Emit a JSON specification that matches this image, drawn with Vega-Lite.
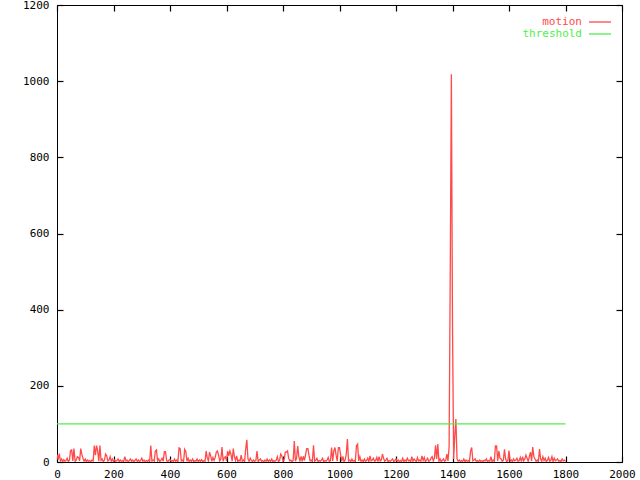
{
  "$schema": "https://vega.github.io/schema/vega-lite/v6.json",
  "width": 565,
  "height": 457,
  "autosize": "none",
  "padding": {"left": 57, "top": 5, "right": 18, "bottom": 18},
  "background": "white",
  "config": {
    "view": {"stroke": "black", "strokeWidth": 1},
    "font": "DejaVu Sans Mono",
    "axis": {
      "domain": false, "tickColor": "black", "labelColor": "black",
      "labelFont": "DejaVu Sans Mono", "labelFontSize": 11, "grid": false,
      "title": null, "labelFlush": false, "labelOverlap": false, "format": "d", "tickWidth": 1.2
    }
  },
  "datasets": {
    "motion": [
{"x":0,"y":20},{"x":4,"y":6},{"x":8,"y":22},{"x":12,"y":3},{"x":16,"y":8},{"x":20,"y":1},{"x":24,"y":6},{"x":28,"y":2},{"x":32,"y":4},{"x":36,"y":10},{"x":40,"y":1},{"x":44,"y":5},{"x":48,"y":30},{"x":52,"y":32},{"x":56,"y":3},{"x":60,"y":35},{"x":64,"y":2},{"x":68,"y":5},{"x":72,"y":14},{"x":76,"y":12},{"x":80,"y":3},{"x":84,"y":35},{"x":88,"y":20},{"x":92,"y":10},{"x":96,"y":2},
{"x":100,"y":8},{"x":104,"y":1},{"x":108,"y":5},{"x":112,"y":2},{"x":116,"y":4},{"x":120,"y":1},{"x":124,"y":5},{"x":128,"y":3},{"x":132,"y":43},{"x":136,"y":18},{"x":140,"y":43},{"x":144,"y":30},{"x":148,"y":2},{"x":152,"y":43},{"x":156,"y":4},{"x":160,"y":8},{"x":164,"y":1},{"x":168,"y":5},{"x":172,"y":21},{"x":176,"y":16},{"x":180,"y":3},{"x":184,"y":5},{"x":188,"y":14},{"x":192,"y":2},{"x":196,"y":8},
{"x":200,"y":1},{"x":204,"y":5},{"x":208,"y":2},{"x":212,"y":4},{"x":216,"y":8},{"x":220,"y":1},{"x":224,"y":5},{"x":228,"y":2},{"x":232,"y":4},{"x":236,"y":1},{"x":240,"y":14},{"x":244,"y":3},{"x":248,"y":5},{"x":252,"y":1},{"x":256,"y":4},{"x":260,"y":8},{"x":264,"y":2},{"x":268,"y":5},{"x":272,"y":1},{"x":276,"y":4},{"x":280,"y":8},{"x":284,"y":2},{"x":288,"y":5},{"x":292,"y":1},{"x":296,"y":4},
{"x":300,"y":10},{"x":304,"y":2},{"x":308,"y":5},{"x":312,"y":1},{"x":316,"y":4},{"x":320,"y":2},{"x":324,"y":5},{"x":328,"y":1},{"x":332,"y":43},{"x":336,"y":3},{"x":340,"y":5},{"x":344,"y":2},{"x":348,"y":29},{"x":352,"y":32},{"x":356,"y":3},{"x":360,"y":8},{"x":364,"y":1},{"x":368,"y":5},{"x":372,"y":10},{"x":376,"y":2},{"x":380,"y":27},{"x":384,"y":27},{"x":388,"y":4},{"x":392,"y":1},{"x":396,"y":5},
{"x":400,"y":6},{"x":404,"y":2},{"x":408,"y":4},{"x":412,"y":1},{"x":416,"y":8},{"x":420,"y":2},{"x":424,"y":5},{"x":428,"y":1},{"x":432,"y":37},{"x":436,"y":35},{"x":440,"y":3},{"x":444,"y":5},{"x":448,"y":1},{"x":452,"y":33},{"x":456,"y":27},{"x":460,"y":2},{"x":464,"y":10},{"x":468,"y":1},{"x":472,"y":5},{"x":476,"y":2},{"x":480,"y":8},{"x":484,"y":1},{"x":488,"y":4},{"x":492,"y":2},{"x":496,"y":8},
{"x":500,"y":1},{"x":504,"y":5},{"x":508,"y":2},{"x":512,"y":6},{"x":516,"y":1},{"x":520,"y":4},{"x":524,"y":2},{"x":528,"y":29},{"x":532,"y":10},{"x":536,"y":3},{"x":540,"y":26},{"x":544,"y":16},{"x":548,"y":2},{"x":552,"y":12},{"x":556,"y":4},{"x":560,"y":12},{"x":564,"y":26},{"x":568,"y":29},{"x":572,"y":18},{"x":576,"y":3},{"x":580,"y":8},{"x":584,"y":39},{"x":588,"y":2},{"x":592,"y":11},{"x":596,"y":14},
{"x":600,"y":3},{"x":604,"y":29},{"x":608,"y":16},{"x":612,"y":29},{"x":616,"y":20},{"x":620,"y":2},{"x":624,"y":35},{"x":628,"y":14},{"x":632,"y":4},{"x":636,"y":16},{"x":640,"y":1},{"x":644,"y":5},{"x":648,"y":3},{"x":652,"y":18},{"x":656,"y":2},{"x":660,"y":5},{"x":664,"y":1},{"x":668,"y":35},{"x":672,"y":58},{"x":676,"y":8},{"x":680,"y":2},{"x":684,"y":10},{"x":688,"y":4},{"x":692,"y":1},{"x":696,"y":5},
{"x":700,"y":2},{"x":704,"y":4},{"x":708,"y":29},{"x":712,"y":1},{"x":716,"y":5},{"x":720,"y":8},{"x":724,"y":2},{"x":728,"y":4},{"x":732,"y":1},{"x":736,"y":5},{"x":740,"y":2},{"x":744,"y":8},{"x":748,"y":1},{"x":752,"y":5},{"x":756,"y":2},{"x":760,"y":8},{"x":764,"y":1},{"x":768,"y":4},{"x":772,"y":2},{"x":776,"y":5},{"x":780,"y":14},{"x":784,"y":1},{"x":788,"y":4},{"x":792,"y":21},{"x":796,"y":16},
{"x":800,"y":2},{"x":804,"y":5},{"x":808,"y":26},{"x":812,"y":26},{"x":816,"y":29},{"x":820,"y":10},{"x":824,"y":3},{"x":828,"y":5},{"x":832,"y":1},{"x":836,"y":4},{"x":840,"y":55},{"x":844,"y":2},{"x":848,"y":10},{"x":852,"y":42},{"x":856,"y":14},{"x":860,"y":3},{"x":864,"y":15},{"x":868,"y":2},{"x":872,"y":15},{"x":876,"y":4},{"x":880,"y":20},{"x":884,"y":35},{"x":888,"y":35},{"x":892,"y":18},{"x":896,"y":3},
{"x":900,"y":5},{"x":904,"y":1},{"x":908,"y":44},{"x":912,"y":2},{"x":916,"y":5},{"x":920,"y":10},{"x":924,"y":1},{"x":928,"y":4},{"x":932,"y":2},{"x":936,"y":5},{"x":940,"y":10},{"x":944,"y":1},{"x":948,"y":4},{"x":952,"y":2},{"x":956,"y":5},{"x":960,"y":12},{"x":964,"y":1},{"x":968,"y":4},{"x":972,"y":38},{"x":976,"y":3},{"x":980,"y":30},{"x":984,"y":38},{"x":988,"y":18},{"x":992,"y":2},{"x":996,"y":38},
{"x":1000,"y":38},{"x":1004,"y":18},{"x":1008,"y":2},{"x":1012,"y":15},{"x":1016,"y":1},{"x":1020,"y":5},{"x":1024,"y":21},{"x":1028,"y":60},{"x":1032,"y":3},{"x":1036,"y":5},{"x":1040,"y":1},{"x":1044,"y":8},{"x":1048,"y":2},{"x":1052,"y":4},{"x":1056,"y":1},{"x":1060,"y":43},{"x":1064,"y":47},{"x":1068,"y":3},{"x":1072,"y":14},{"x":1076,"y":2},{"x":1080,"y":5},{"x":1084,"y":1},{"x":1088,"y":8},{"x":1092,"y":2},{"x":1096,"y":4},
{"x":1100,"y":10},{"x":1104,"y":1},{"x":1108,"y":16},{"x":1112,"y":3},{"x":1116,"y":5},{"x":1120,"y":10},{"x":1124,"y":2},{"x":1128,"y":4},{"x":1132,"y":12},{"x":1136,"y":1},{"x":1140,"y":14},{"x":1144,"y":3},{"x":1148,"y":5},{"x":1152,"y":21},{"x":1156,"y":10},{"x":1160,"y":2},{"x":1164,"y":5},{"x":1168,"y":10},{"x":1172,"y":1},{"x":1176,"y":4},{"x":1180,"y":2},{"x":1184,"y":5},{"x":1188,"y":8},{"x":1192,"y":1},{"x":1196,"y":4},
{"x":1200,"y":8},{"x":1204,"y":2},{"x":1208,"y":5},{"x":1212,"y":1},{"x":1216,"y":4},{"x":1220,"y":2},{"x":1224,"y":10},{"x":1228,"y":1},{"x":1232,"y":5},{"x":1236,"y":2},{"x":1240,"y":10},{"x":1244,"y":3},{"x":1248,"y":5},{"x":1252,"y":1},{"x":1256,"y":14},{"x":1260,"y":2},{"x":1264,"y":8},{"x":1268,"y":4},{"x":1272,"y":1},{"x":1276,"y":12},{"x":1280,"y":3},{"x":1284,"y":5},{"x":1288,"y":2},{"x":1292,"y":16},{"x":1296,"y":4},
{"x":1300,"y":12},{"x":1304,"y":1},{"x":1308,"y":5},{"x":1312,"y":10},{"x":1316,"y":2},{"x":1320,"y":4},{"x":1324,"y":10},{"x":1328,"y":14},{"x":1332,"y":3},{"x":1336,"y":10},{"x":1340,"y":44},{"x":1344,"y":8},{"x":1348,"y":47},{"x":1352,"y":2},{"x":1356,"y":8},{"x":1360,"y":1},{"x":1364,"y":5},{"x":1368,"y":8},{"x":1372,"y":2},{"x":1376,"y":4},{"x":1380,"y":21},{"x":1384,"y":3},{"x":1388,"y":39},{"x":1392,"y":493},{"x":1396,"y":1018},
{"x":1400,"y":362},{"x":1404,"y":8},{"x":1408,"y":68},{"x":1412,"y":113},{"x":1416,"y":8},{"x":1420,"y":2},{"x":1424,"y":5},{"x":1428,"y":1},{"x":1432,"y":4},{"x":1436,"y":2},{"x":1440,"y":8},{"x":1444,"y":1},{"x":1448,"y":5},{"x":1452,"y":2},{"x":1456,"y":4},{"x":1460,"y":1},{"x":1464,"y":29},{"x":1468,"y":38},{"x":1472,"y":3},{"x":1476,"y":5},{"x":1480,"y":8},{"x":1484,"y":2},{"x":1488,"y":4},{"x":1492,"y":1},{"x":1496,"y":5},
{"x":1500,"y":2},{"x":1504,"y":4},{"x":1508,"y":1},{"x":1512,"y":5},{"x":1516,"y":3},{"x":1520,"y":8},{"x":1524,"y":1},{"x":1528,"y":4},{"x":1532,"y":2},{"x":1536,"y":14},{"x":1540,"y":1},{"x":1544,"y":5},{"x":1548,"y":2},{"x":1552,"y":42},{"x":1556,"y":42},{"x":1560,"y":3},{"x":1564,"y":29},{"x":1568,"y":10},{"x":1572,"y":8},{"x":1576,"y":2},{"x":1580,"y":5},{"x":1584,"y":33},{"x":1588,"y":8},{"x":1592,"y":1},{"x":1596,"y":4},
{"x":1600,"y":30},{"x":1604,"y":2},{"x":1608,"y":5},{"x":1612,"y":1},{"x":1616,"y":8},{"x":1620,"y":3},{"x":1624,"y":5},{"x":1628,"y":10},{"x":1632,"y":2},{"x":1636,"y":4},{"x":1640,"y":12},{"x":1644,"y":1},{"x":1648,"y":14},{"x":1652,"y":3},{"x":1656,"y":8},{"x":1660,"y":18},{"x":1664,"y":10},{"x":1668,"y":2},{"x":1672,"y":14},{"x":1676,"y":26},{"x":1680,"y":3},{"x":1684,"y":39},{"x":1688,"y":14},{"x":1692,"y":8},{"x":1696,"y":2},
{"x":1700,"y":5},{"x":1704,"y":1},{"x":1708,"y":34},{"x":1712,"y":8},{"x":1716,"y":2},{"x":1720,"y":14},{"x":1724,"y":4},{"x":1728,"y":10},{"x":1732,"y":1},{"x":1736,"y":5},{"x":1740,"y":12},{"x":1744,"y":2},{"x":1748,"y":4},{"x":1752,"y":14},{"x":1756,"y":1},{"x":1760,"y":10},{"x":1764,"y":3},{"x":1768,"y":5},{"x":1772,"y":8},{"x":1776,"y":2},{"x":1780,"y":4},{"x":1784,"y":1},{"x":1788,"y":8},{"x":1792,"y":3},{"x":1796,"y":5},{"x":1800,"y":2}
    ],
    "threshold": [{"x": 0, "y": 100}, {"x": 1800, "y": 100}]
  },
  "layer": [
    {
      "data": {"name": "motion"},
      "mark": {"type": "line", "strokeWidth": 1.3, "clip": true},
      "encoding": {
        "x": {"field": "x", "type": "quantitative", "scale": {"domain": [0, 2000], "nice": false},
              "axis": {"orient": "bottom", "offset": -6, "tickSize": 6, "labelPadding": 6, "values": [0,200,400,600,800,1000,1200,1400,1600,1800,2000]}},
        "y": {"field": "y", "type": "quantitative", "scale": {"domain": [0, 1200], "nice": false},
              "axis": {"orient": "left", "offset": -6, "tickSize": 6, "labelPadding": 8, "values": [0,200,400,600,800,1000,1200]}},
        "color": {
          "datum": "motion", "type": "nominal",
          "scale": {"domain": ["motion", "threshold"], "range": ["#ff4a4a", "#4cf04c"]},
          "legend": {
            "orient": "none", "legendX": 531, "legendY": 10.5, "title": null,
            "symbolType": "M -1 0 H 3", "symbolSize": 121, "symbolStrokeWidth": 1.3,
            "labelAlign": "right", "labelOffset": -19, "labelFont": "DejaVu Sans Mono", "labelFontSize": 11,
            "rowPadding": -1, "padding": 0,
            "encode": {"labels": {"update": {"fill": {"scale": "color", "field": "value"}}}}
          }
        }
      }
    },
    {
      "data": {"name": "threshold"},
      "mark": {"type": "line", "strokeWidth": 1.2},
      "encoding": {
        "x": {"field": "x", "type": "quantitative", "scale": {"domain": [0, 2000], "nice": false},
              "axis": {"orient": "bottom", "offset": -457, "labels": false, "tickSize": 6, "values": [0,200,400,600,800,1000,1200,1400,1600,1800,2000]}},
        "y": {"field": "y", "type": "quantitative", "scale": {"domain": [0, 1200], "nice": false},
              "axis": {"orient": "left", "offset": -565, "labels": false, "tickSize": 6, "values": [0,200,400,600,800,1000,1200]}},
        "color": {"datum": "threshold", "type": "nominal"}
      }
    }
  ],
  "resolve": {"axis": {"x": "independent", "y": "independent"}}
}
